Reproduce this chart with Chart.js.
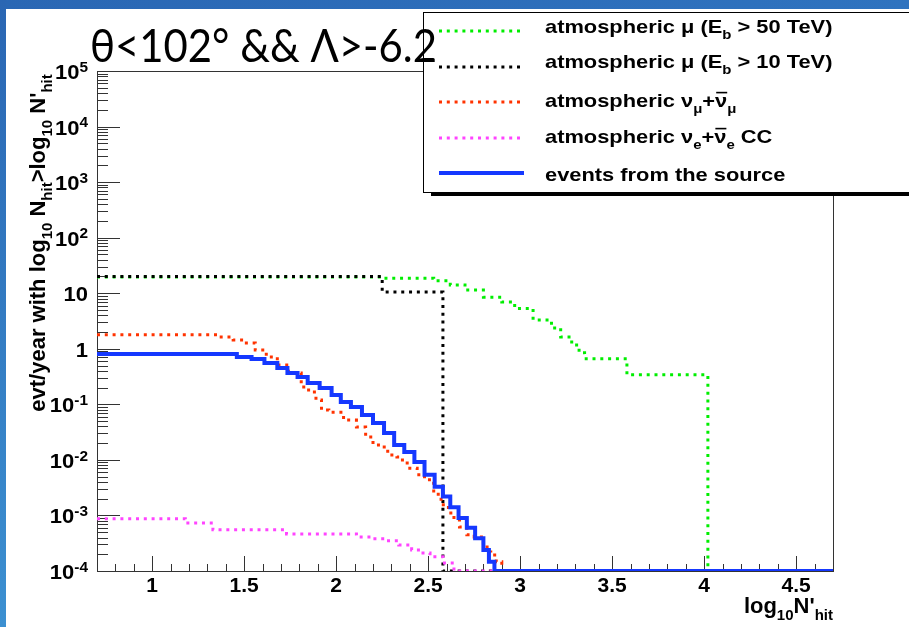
<!DOCTYPE html>
<html>
<head>
<meta charset="utf-8">
<title>evt/year vs log10 N'hit</title>
<script src="https://cdn.jsdelivr.net/npm/chart.js@4.4.1/dist/chart.umd.min.js"></script>
<style>
  html, body { margin: 0; padding: 0; background: #fff; }
  #page { position: relative; width: 909px; height: 627px; overflow: hidden; background: #fff; }
  #barTop { position: absolute; left: 0; top: 0; width: 909px; height: 9px; background: linear-gradient(90deg, #2a67b4, #2f73bf); }
  #barLeft { position: absolute; left: 0; top: 0; width: 6px; height: 627px; background: linear-gradient(#2a66b3, #3c90d1); }
  canvas { position: absolute; left: 0; top: 0; }
</style>
</head>
<body>
<div id="page">
  <canvas id="canvasChart" width="909" height="627"></canvas>
  <div id="barTop"></div>
  <div id="barLeft"></div>
</div>
<script>
// histogram bin edges (log10 N'hit) and contents (evt/year); 0 = empty bin
const mu50Edges  = [0.70, 2.25, 2.53, 2.62, 2.70, 2.80, 2.90, 2.97, 3.07, 3.17, 3.22, 3.28, 3.32, 3.35, 3.58, 4.02, 4.70];
const mu50Values = [19.5, 18.6, 16.8, 14.1, 11.4, 8.5, 6.95, 5.3, 3.3, 2.37, 1.63, 1.17, 0.85, 0.66, 0.34, 0, 0];

const mu10Edges  = [0.70, 2.25, 2.58, 4.70];
const mu10Values = [20, 10.5, 0, 0];

const numuEdges  = [0.70, 1.36, 1.44, 1.50, 1.56, 1.62, 1.68, 1.74, 1.81, 1.85,
                    1.89, 1.92, 1.96, 2.04, 2.11, 2.16, 2.20, 2.24, 2.28, 2.33,
                    2.36, 2.40, 2.44, 2.48, 2.53, 2.57, 2.61, 2.64, 2.67, 2.71,
                    2.75, 2.80, 2.82, 2.84, 2.87, 2.90, 4.70];
const numuValues = [1.78, 1.63, 1.44, 1.27, 0.95, 0.71, 0.51, 0.366, 0.205, 0.167,
                    0.120, 0.079, 0.072, 0.052, 0.039, 0.0258, 0.0186, 0.0171, 0.0123, 0.0113,
                    0.0088, 0.0071, 0.0054, 0.0044, 0.0024, 0.00155, 0.00111, 0.00083, 0.00062, 0.00045,
                    0.00041, 0.00032, 0.00022, 0.000195, 0.000146, 0, 0];

const nueEdges  = [0.70, 1.18, 1.33, 1.73, 2.11, 2.19, 2.27, 2.34, 2.41, 2.46, 2.51, 2.58, 2.64, 4.70];
const nueValues = [8.7e-4, 7.3e-4, 5.5e-4, 4.65e-4, 4.1e-4, 3.8e-4, 3.5e-4, 2.95e-4, 2.4e-4, 2.1e-4, 1.8e-4, 1.4e-4, 0, 0];

const srcEdges  = [0.70, 1.46, 1.54, 1.61, 1.68, 1.735, 1.79, 1.845, 1.91, 1.975,
                   2.025, 2.08, 2.14, 2.20, 2.26, 2.315, 2.37, 2.425, 2.48, 2.535,
                   2.58, 2.62, 2.665, 2.71, 2.755, 2.80, 2.83, 2.86, 4.70];
const srcValues = [0.805, 0.711, 0.655, 0.555, 0.451, 0.366, 0.310, 0.242, 0.197, 0.147,
                   0.110, 0.090, 0.064, 0.046, 0.0305, 0.0186, 0.0139, 0.0092, 0.0054, 0.0033,
                   0.0022, 0.0014, 0.0009, 0.0006, 0.00039, 0.00024, 0.000146, 0, 0];

const legendLabels = ['atmospheric μ (E_{b} > 50 TeV)', 'atmospheric μ (E_{b} > 10 TeV)',
                      'atmospheric ν_{μ}+#bar{ν}_{μ}', 'atmospheric ν_{e}+#bar{ν}_{e} CC',
                      'events from the source'];
const xTickLabels = ['1', '1.5', '2', '2.5', '3', '3.5', '4', '4.5'];
const yTickValues = [1e-4, 1e-3, 1e-2, 1e-1, 1, 10, 1e2, 1e3, 1e4, 1e5];
const yTickLabels = ['10^{-4}', '10^{-3}', '10^{-2}', '10^{-1}', '1', '10', '10^{2}', '10^{3}', '10^{4}', '10^{5}'];
const slideTitle = 'θ<102° && Λ>-6.2';
const xTitle = "log_{10}N'_{hit}";
const yTitle = "evt/year with log_{10} N_{hit}>log_{10} N'_{hit}";

const yMin = 1e-4, yMax = 1e5;

// empty bins sit on the axis floor, like ROOT draws them
function toPoints(edges, values) {
  return edges.map((x, i) => ({x: x, y: values[i] > 0 ? values[i] : yMin}));
}

function parseLatex(str) {
  const parts = [];
  const re = /(_\{[^}]*\}|\^\{[^}]*\}|#bar\{[^}]*\})/g;
  let last = 0, m;
  while ((m = re.exec(str))) {
    if (m.index > last) parts.push({t: str.slice(last, m.index), k: 'n'});
    const tok = m[0];
    parts.push({t: tok.slice(tok.indexOf('{') + 1, -1), k: tok[0] === '_' ? 'sub' : tok[0] === '^' ? 'sup' : 'bar'});
    last = re.lastIndex;
  }
  if (last < str.length) parts.push({t: str.slice(last), k: 'n'});
  return parts;
}

function drawLatex(ctx, str, x, y, size, align, stretch) {
  const parts = parseLatex(str);
  const small = Math.round(size * 0.7);
  const font = s => 'bold ' + s + 'px "Liberation Sans", Arial, sans-serif';
  let w = 0;
  parts.forEach(p => {
    ctx.font = font(p.k === 'sub' || p.k === 'sup' ? small : size);
    p.w = ctx.measureText(p.t).width;
    w += p.w;
  });
  stretch = stretch || 1;
  ctx.save();
  ctx.translate(x, y);
  ctx.scale(stretch, 1);
  let cx = align === 'right' ? -w : align === 'center' ? -w / 2 : 0;
  ctx.textAlign = 'left';
  ctx.textBaseline = 'alphabetic';
  ctx.fillStyle = '#000';
  parts.forEach(p => {
    ctx.font = font(p.k === 'sub' || p.k === 'sup' ? small : size);
    const dy = p.k === 'sub' ? size * 0.32 : p.k === 'sup' ? -size * 0.36 : 0;
    ctx.fillText(p.t, cx, dy);
    if (p.k === 'bar') ctx.fillRect(cx + 1, -size * 0.8, p.w - 1, 1.6);
    cx += p.w;
  });
  ctx.restore();
  return w * stretch;
}

const rootFrame = {
  id: 'rootFrame',
  beforeDatasetsDraw(chart) {
    const {ctx, chartArea: a, scales: {x, y}} = chart;
    ctx.save();
    ctx.strokeStyle = '#333';
    ctx.lineWidth = 1;
    ctx.strokeRect(a.left + 0.5, a.top + 0.5, a.right - a.left, a.bottom - a.top);
    ctx.beginPath();
    x.ticks.forEach(t => {
      const px = Math.round(x.getPixelForValue(t.value)) + 0.5;
      const major = Math.abs(t.value * 2 - Math.round(t.value * 2)) < 1e-6;
      ctx.moveTo(px, a.bottom);
      ctx.lineTo(px, a.bottom - (major ? 15 : 7));
    });
    for (let e = -4; e < 5; e++) {
      for (let m = 1; m < 10; m++) {
        const py = Math.round(y.getPixelForValue(m * Math.pow(10, e))) + 0.5;
        ctx.moveTo(a.left, py);
        ctx.lineTo(a.left + (m === 1 ? 23 : 11), py);
      }
    }
    ctx.stroke();
    ctx.restore();
  },
  afterDraw(chart) {
    const {ctx, chartArea: a, scales: {y}} = chart;
    ctx.save();
    // y tick labels
    yTickValues.forEach((v, i) => {
      drawLatex(ctx, yTickLabels[i], 88, y.getPixelForValue(v) + 8, 20, 'right', 1.1);
    });
    // axis titles
    drawLatex(ctx, xTitle, a.right, 613, 22, 'right');
    ctx.save();
    ctx.translate(45, 243);
    ctx.rotate(-Math.PI / 2);
    drawLatex(ctx, yTitle, 0, 0, 22, 'center');
    ctx.restore();

    // legend box with shadow
    ctx.fillStyle = '#fff';
    ctx.fillRect(423, 12, 909 - 423, 180);
    ctx.fillStyle = '#000';
    ctx.fillRect(431, 192, 909 - 431, 4);
    ctx.strokeStyle = '#000';
    ctx.lineWidth = 1;
    ctx.strokeRect(423.5, 12.5, 500, 180);
    const rowY = [31, 67, 102, 138, 173];
    const textY = [33, 68, 107, 143, 181];
    const order = [4, 3, 2, 1, 0];
    order.forEach((di, r) => {
      const ds = chart.data.datasets[di];
      ctx.save();
      ctx.strokeStyle = ds.borderColor;
      ctx.lineWidth = ds.borderWidth;
      ctx.setLineDash(ds.borderDash || []);
      ctx.beginPath();
      ctx.moveTo(439, rowY[r]);
      ctx.lineTo(524, rowY[r]);
      ctx.stroke();
      ctx.restore();
      drawLatex(ctx, legendLabels[r], 545, textY[r], 19, 'left', 1.15);
    });

    // slide title
    ctx.font = '47px Lato, "Open Sans", sans-serif';
    ctx.fillStyle = '#000';
    ctx.textBaseline = 'alphabetic';
    const tw = ctx.measureText(slideTitle).width;
    ctx.translate(90, 62);
    ctx.scale(347 / tw, 1);
    ctx.fillText(slideTitle, 0, 0);
    ctx.restore();
  }
};

const dotted = [3, 4.8];
const data = {
  datasets: [
    {label: 'events from the source', data: toPoints(srcEdges, srcValues), borderColor: '#1538ff', borderWidth: 4, order: 1},
    {label: 'atmospheric nue', data: toPoints(nueEdges, nueValues), borderColor: '#ff44ff', borderWidth: 3, borderDash: dotted, order: 2},
    {label: 'atmospheric numu', data: toPoints(numuEdges, numuValues), borderColor: '#ff3300', borderWidth: 3, borderDash: dotted, order: 3},
    {label: 'atmospheric mu 10', data: toPoints(mu10Edges, mu10Values), borderColor: '#000000', borderWidth: 3, borderDash: dotted, order: 4},
    {label: 'atmospheric mu 50', data: toPoints(mu50Edges, mu50Values), borderColor: '#00ee00', borderWidth: 3, borderDash: dotted, order: 5}
  ]
};
data.datasets.forEach(ds => {
  ds.stepped = 'before';
  ds.pointRadius = 0;
  ds.fill = false;
  ds.tension = 0;
});

let config = {
  type: 'line',
  data: data,
  plugins: [rootFrame],
  options: {
    responsive: false,
    animation: false,
    devicePixelRatio: 1,
    layout: {padding: {left: 97, right: 76, top: 71, bottom: 0}},
    plugins: {
      legend: {display: false},
      tooltip: {enabled: false}
    },
    scales: {
      x: {
        type: 'linear',
        min: 0.7,
        max: 4.7,
        grid: {display: false, drawTicks: false},
        border: {display: false},
        ticks: {
          stepSize: 0.1,
          autoSkip: false,
          maxRotation: 0,
          padding: 3,
          color: '#000',
          font: {family: 'Liberation Sans', size: 21, weight: 'bold'},
          callback: v => xTickLabels.includes(String(v)) ? String(v) : ''
        },
        afterFit: s => { s.height = 56; }
      },
      y: {
        type: 'logarithmic',
        min: yMin,
        max: yMax,
        display: false
      }
    }
  }
};

let ctx = document.getElementById('canvasChart').getContext('2d');
let canvasChart = new Chart(ctx, config);
</script>
</body>
</html>
